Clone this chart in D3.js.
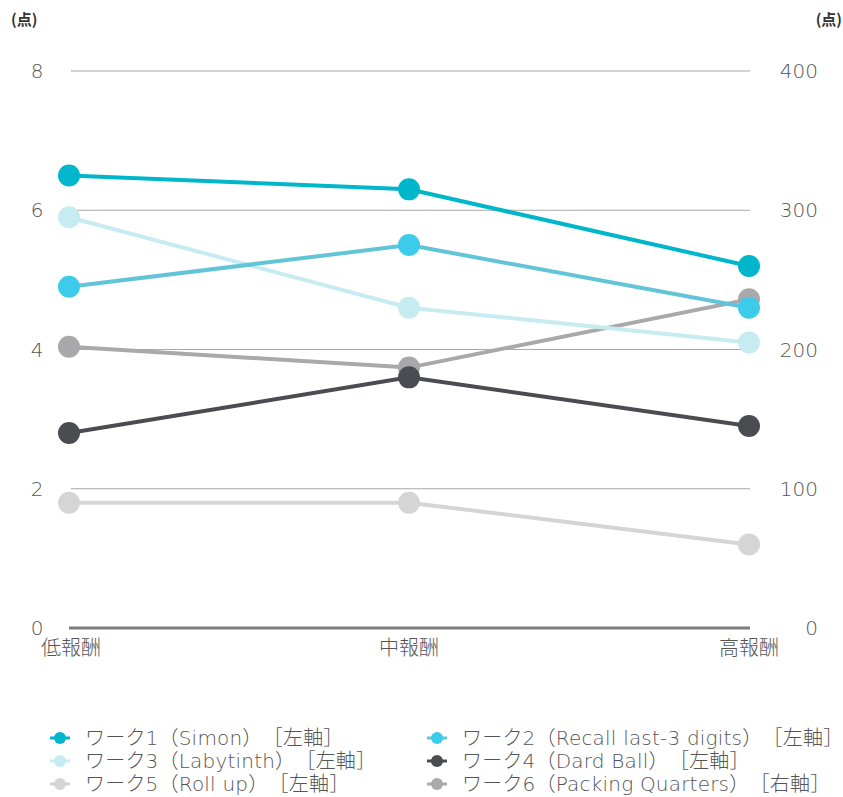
<!DOCTYPE html>
<html>
<head>
<meta charset="utf-8">
<script src="https://cdn.jsdelivr.net/npm/d3@7/dist/d3.min.js"></script>
<style>
  html, body { margin: 0; padding: 0; background: #fff; }
  svg text { font-family: "DejaVu Sans", "Noto Sans CJK JP", sans-serif; font-weight: 200; fill: #555; }
  svg text.cjk { font-family: "Noto Sans CJK JP", sans-serif; font-weight: 300; }
</style>
</head>
<body>
<svg id="chart" width="843" height="797"></svg>
<script>
// Reward levels on the x axis
const categories = ["低報酬", "中報酬", "高報酬"];

// Series names, which axis they use, and their values per reward level
const seriesNames = [
  "ワーク1（Simon）　［左軸］",
  "ワーク2（Recall last-3 digits）　［左軸］",
  "ワーク3（Labytinth）　［左軸］",
  "ワーク4（Dard Ball）　［左軸］",
  "ワーク5（Roll up）　［左軸］",
  "ワーク6（Packing Quarters）　［右軸］"
];
const seriesAxis = ["left", "left", "left", "left", "left", "right"];
const work1 = [6.5, 6.3, 5.2];
const work2 = [4.9, 5.5, 4.6];
const work3 = [5.9, 4.6, 4.1];
const work4 = [2.8, 3.6, 2.9];
const work5 = [1.8, 1.8, 1.2];
const work6 = [202, 187, 236];
const seriesValues = [work1, work2, work3, work4, work5, work6];

const lineColors = ["#00b6cb", "#62c5d7", "#c6ecf2", "#4b4c51", "#d5d5d5", "#a9a9ab"];
const dotColors  = ["#00b6cb", "#3ccbeb", "#c6ecf2", "#4b4c51", "#d5d5d5", "#a9a9ab"];

const leftTicks = [0, 2, 4, 6, 8];
const rightTicks = [0, 100, 200, 300, 400];

const svg = d3.select("#chart");
const plot = { left: 69, right: 749, top: 71, bottom: 628 };

const x = d3.scalePoint().domain(categories).range([plot.left, plot.right]);
const yL = d3.scaleLinear().domain([0, 8]).range([plot.bottom, plot.top]);
const yR = d3.scaleLinear().domain([0, 400]).range([plot.bottom, plot.top]);

// Gridlines
svg.append("g").selectAll("line")
  .data(leftTicks.filter(d => d > 0))
  .join("line")
  .attr("x1", 71).attr("x2", 750)
  .attr("y1", d => yL(d)).attr("y2", d => yL(d))
  .attr("stroke", "#a8a8a8").attr("stroke-width", 1);

// Baseline
svg.append("line")
  .attr("x1", 69).attr("x2", 750)
  .attr("y1", yL(0)).attr("y2", yL(0))
  .attr("stroke", "#7d7d7d").attr("stroke-width", 3);

// Left axis labels
svg.append("g").selectAll("text")
  .data(leftTicks).join("text")
  .attr("x", 37).attr("y", d => yL(d)).attr("dy", "0.35em")
  .attr("text-anchor", "middle").attr("font-size", 20)
  .text(d => d);

// Right axis labels
svg.append("g").selectAll("text")
  .data(rightTicks).join("text")
  .attr("x", 818).attr("y", d => yR(d)).attr("dy", "0.35em")
  .attr("text-anchor", "end").attr("font-size", 20)
  .text(d => d);

// Unit labels
svg.append("text").attr("class", "cjk").attr("x", 11).attr("y", 25).attr("font-size", 15)
  .style("font-weight", 700).style("fill", "#333").text("(点)");
svg.append("text").attr("class", "cjk").attr("x", 842).attr("y", 25).attr("font-size", 15)
  .attr("text-anchor", "end")
  .style("font-weight", 700).style("fill", "#333").text("(点)");

// Category labels
svg.append("g").selectAll("text")
  .data(categories).join("text")
  .attr("class", "cjk")
  .attr("x", (d, i) => x(d) + (i === 0 ? 2 : 0))
  .attr("y", 655)
  .attr("text-anchor", "middle").attr("font-size", 20)
  .text(d => d);

// Series lines and markers (drawn last-to-first so ワーク1 sits on top)
const order = d3.range(seriesValues.length).reverse();
order.forEach(i => {
  const yS = seriesAxis[i] === "right" ? yR : yL;
  const pts = seriesValues[i].map((v, j) => [x(categories[j]), yS(v)]);
  const g = svg.append("g");
  g.append("path")
    .attr("d", d3.line()(pts))
    .attr("fill", "none")
    .attr("stroke", lineColors[i])
    .attr("stroke-width", 4);
  g.selectAll("circle").data(pts).join("circle")
    .attr("cx", d => d[0]).attr("cy", d => d[1]).attr("r", 11)
    .attr("fill", dotColors[i]);
});

// Legend
const legendCols = [60, 437];
const legendRows = [738, 761, 784];
seriesNames.forEach((name, i) => {
  const cx = legendCols[i % 2];
  const cy = legendRows[Math.floor(i / 2)];
  const g = svg.append("g");
  g.append("line")
    .attr("x1", cx - 10).attr("x2", cx + 10)
    .attr("y1", cy).attr("y2", cy)
    .attr("stroke", lineColors[i]).attr("stroke-width", 3);
  g.append("circle").attr("cx", cx).attr("cy", cy).attr("r", 6)
    .attr("fill", dotColors[i]);
  g.append("text")
    .attr("x", cx + 25).attr("y", cy).attr("dy", "0.36em")
    .attr("font-size", 20)
    .attr("letter-spacing", 0.2)
    .text(name);
});
</script>
</body>
</html>
